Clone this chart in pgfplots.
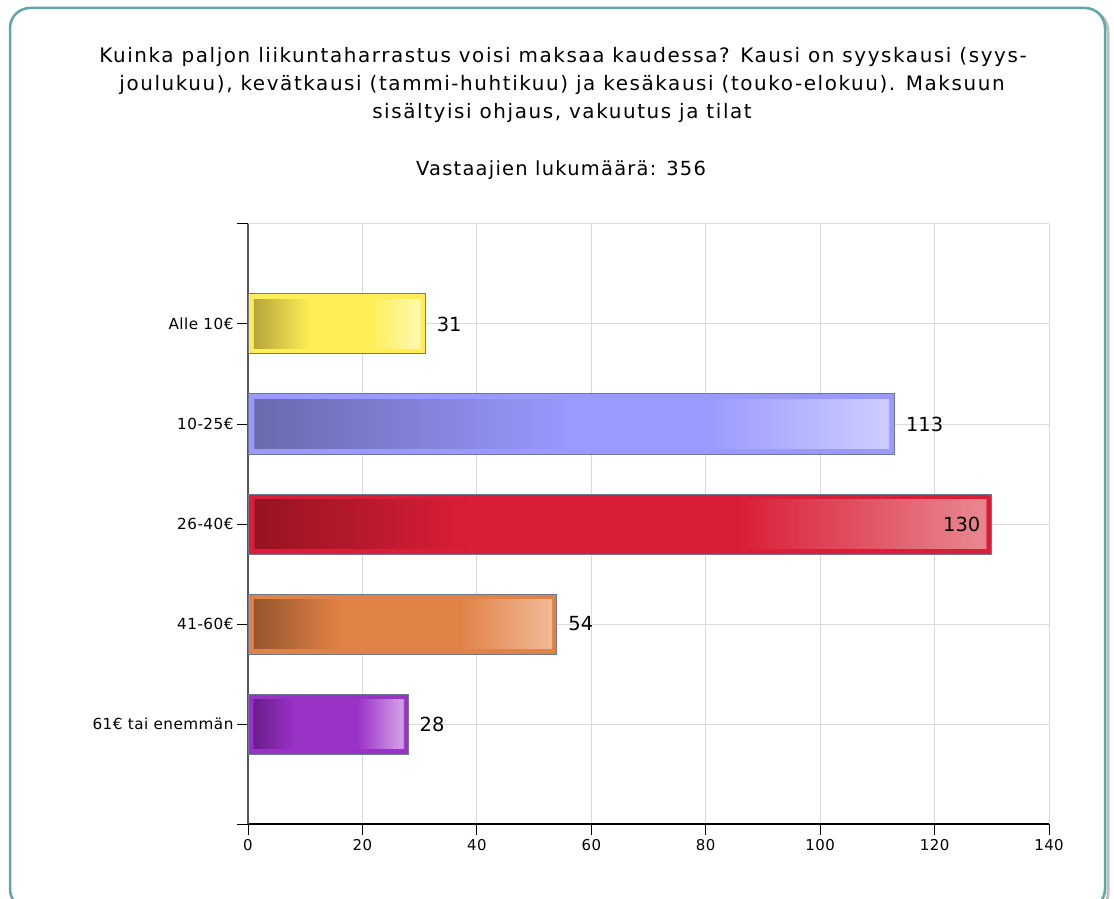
\documentclass[border=0pt]{standalone}
\usepackage{pgfplots}
\pgfplotsset{compat=1.18}
\usepackage{fontspec}
\setmainfont{DejaVu Sans}
\newfontfamily\titlefont[LetterSpace=8]{DejaVu Sans}
\newfontfamily\countfont[LetterSpace=6.5]{DejaVu Sans}
\newfontfamily\labelfont[LetterSpace=3]{DejaVu Sans}

\definecolor{frameteal}{RGB}{98,165,165}
\definecolor{barborder}{RGB}{110,120,145}
\definecolor{gridgray}{RGB}{218,218,218}
\definecolor{axisgray}{RGB}{85,85,85}
\definecolor{ydark}{RGB}{180,165,60}
\definecolor{ymain}{RGB}{255,238,85}
\definecolor{ylight}{RGB}{255,248,175}
\definecolor{bdark}{RGB}{105,105,175}
\definecolor{bmain}{RGB}{153,153,255}
\definecolor{blight}{RGB}{205,205,255}
\definecolor{rdark}{RGB}{150,20,35}
\definecolor{rmain}{RGB}{218,30,55}
\definecolor{rlight}{RGB}{232,135,145}
\definecolor{odark}{RGB}{150,85,45}
\definecolor{omain}{RGB}{225,130,70}
\definecolor{olight}{RGB}{240,185,150}
\definecolor{pdark}{RGB}{105,30,140}
\definecolor{pmain}{RGB}{155,50,200}
\definecolor{plight}{RGB}{212,160,230}

% TikZ fits the central 25bp..75bp of a shading to the path
\pgfdeclarehorizontalshading{yshade}{100bp}{color(0bp)=(ymain); color(26.4bp)=(ymain); color(26.5bp)=(ydark); color(42.5bp)=(ymain); color(59bp)=(ymain); color(73.5bp)=(ylight); color(73.6bp)=(ymain); color(100bp)=(ymain)}
\pgfdeclarehorizontalshading{bshade}{100bp}{color(0bp)=(bmain); color(25.4bp)=(bmain); color(25.5bp)=(bdark); color(50bp)=(bmain); color(60bp)=(bmain); color(74.5bp)=(blight); color(74.6bp)=(bmain); color(100bp)=(bmain)}
\pgfdeclarehorizontalshading{rshade}{100bp}{color(0bp)=(rmain); color(25.35bp)=(rmain); color(25.45bp)=(rdark); color(40bp)=(rmain); color(58bp)=(rmain); color(74.55bp)=(rlight); color(74.65bp)=(rmain); color(100bp)=(rmain)}
\pgfdeclarehorizontalshading{oshade}{100bp}{color(0bp)=(omain); color(25.8bp)=(omain); color(25.9bp)=(odark); color(40bp)=(omain); color(59bp)=(omain); color(74.1bp)=(olight); color(74.2bp)=(omain); color(100bp)=(omain)}
\pgfdeclarehorizontalshading{pshade}{100bp}{color(0bp)=(pmain); color(26.5bp)=(pmain); color(26.6bp)=(pdark); color(40bp)=(pmain); color(59bp)=(pmain); color(73.4bp)=(plight); color(73.5bp)=(pmain); color(100bp)=(pmain)}

\pgfplotsset{
  basebar/.style={xbar, bar width=0.6, bar shift=0pt, fill=#1, draw=none},
  innerbar/.style={xbar, bar width=0.49, bar shift=0pt, shade, shading=#1, draw=none},
  borderbar/.style={xbar, bar width=0.6, bar shift=0pt, fill=none, draw=barborder, line width=1bp},
}

\begin{document}
\begin{tikzpicture}[x=1bp,y=1bp]
\path[use as bounding box] (0,0) rectangle (1114,899);
\draw[black!25, line width=3bp, rounded corners=20bp] (13,-14) rectangle (1108,888);
\draw[frameteal, line width=2.5bp, rounded corners=20bp, fill=white] (10,-10) rectangle (1105,891);

\node[anchor=base, font=\titlefont\fontsize{20}{22}\selectfont] at (563,836) {Kuinka paljon liikuntaharrastus voisi maksaa kaudessa? Kausi on syyskausi (syys-};
\node[anchor=base, font=\titlefont\fontsize{20}{22}\selectfont] at (562,808) {joulukuu), kevätkausi (tammi-huhtikuu) ja kesäkausi (touko-elokuu). Maksuun};
\node[anchor=base, font=\titlefont\fontsize{20}{22}\selectfont] at (562,780) {sisältyisi ohjaus, vakuutus ja tilat};
\node[anchor=base, font=\countfont\fontsize{19.5}{22}\selectfont] at (561,723) {Vastaajien lukumäärä: 356};

\begin{axis}[
  at={(248bp,75bp)}, anchor=south west,
  scale only axis, width=801bp, height=600bp,
  xmin=0, xmax=140, ymin=-1, ymax=5, y dir=reverse,
  xtick={0,20,...,140},
  ytick={-1,0,1,2,3,4,5},
  yticklabels={{},Alle 10€,10-25€,26-40€,41-60€,61€ tai enemmän,{}},
  /pgf/number format/assume math mode=true,
  axis x line*=bottom, axis y line*=left,
  x axis line style={-, black, line width=1.5bp},
  y axis line style={-, axisgray, line width=1.5bp},
  tick pos=left, tick align=outside, major tick length=11bp,
  tick style={black, line width=1bp},
  grid=major, grid style={gridgray, line width=1bp},
  xticklabel style={font=\labelfont\fontsize{15}{15}\selectfont, yshift=-1bp},
  yticklabel style={font=\labelfont\fontsize{15.3}{15.3}\selectfont},
]
\addplot[basebar=ymain] coordinates {(31,0)};
\addplot[innerbar=yshade] coordinates {(31,0)};
\addplot[borderbar] coordinates {(31,0)};
\addplot[basebar=bmain] coordinates {(113,1)};
\addplot[innerbar=bshade] coordinates {(113,1)};
\addplot[borderbar] coordinates {(113,1)};
\addplot[basebar=rmain] coordinates {(130,2)};
\addplot[innerbar=rshade] coordinates {(130,2)};
\addplot[borderbar] coordinates {(130,2)};
\addplot[basebar=omain] coordinates {(54,3)};
\addplot[innerbar=oshade] coordinates {(54,3)};
\addplot[borderbar] coordinates {(54,3)};
\addplot[basebar=pmain] coordinates {(28,4)};
\addplot[innerbar=pshade] coordinates {(28,4)};
\addplot[borderbar] coordinates {(28,4)};
\addplot[draw=none, point meta=x, nodes near coords,
  every node near coord/.style={font=\fontsize{19.5}{19.5}\selectfont, black, anchor=west, xshift=8bp}]
  coordinates {(31,0) (113,1) (54,3) (28,4)};
\addplot[draw=none, point meta=x, nodes near coords,
  every node near coord/.style={font=\fontsize{19.5}{19.5}\selectfont, black, anchor=east, xshift=-8bp}]
  coordinates {(130,2)};
\end{axis}
\end{tikzpicture}
\end{document}
